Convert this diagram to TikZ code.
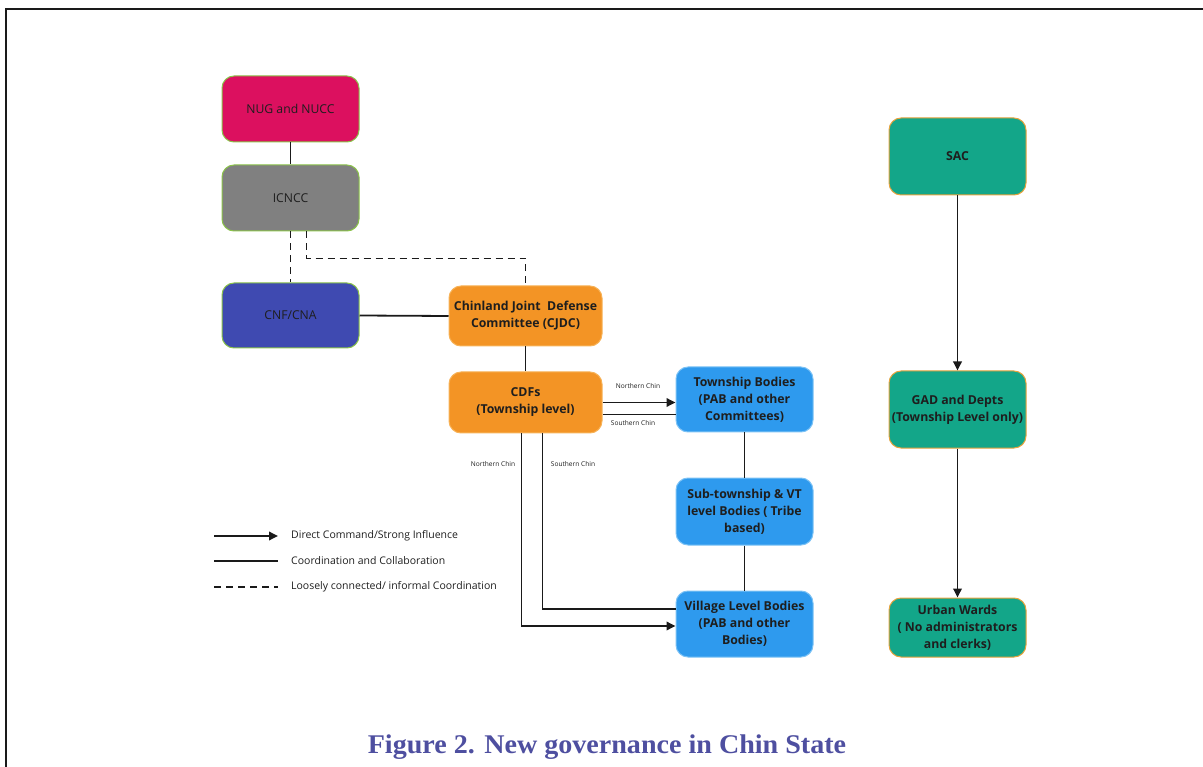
\documentclass[tikz,border=0pt]{standalone}
\usepackage{fontspec}
\setsansfont{Open Sans}
\newfontfamily\capfont{Liberation Serif}
\usetikzlibrary{arrows.meta}
\definecolor{nugc}{HTML}{DC105F}
\definecolor{grayc}{HTML}{808080}
\definecolor{cnfc}{HTML}{3F4AB1}
\definecolor{orgc}{HTML}{F39425}
\definecolor{orgb}{HTML}{F7B257}
\definecolor{bluc}{HTML}{2E9AEE}
\definecolor{blub}{HTML}{7CC2F5}
\definecolor{tealc}{HTML}{13A689}
\definecolor{tealb}{HTML}{E8A33D}
\definecolor{grnb}{HTML}{8BC34A}
\definecolor{txtc}{HTML}{1E1E1E}
\definecolor{capc}{HTML}{4E4FA0}
\definecolor{linec}{HTML}{1A1A1A}
\tikzset{
  box/.style={rectangle, rounded corners=12pt, inner sep=0pt, align=center, line width=1pt, text=txtc, font=\sffamily\fontsize{12.2}{16}\selectfont},
  boldbox/.style={box, font=\sffamily\bfseries\fontsize{12.3}{17}\selectfont},
  conn/.style={draw=linec, line width=1.8pt},
  arr/.style={conn, -{Triangle[length=9pt,width=8.5pt]}},
  dsh/.style={conn, dash pattern=on 7pt off 5pt},
  small/.style={font=\sffamily\fontsize{6.6}{8}\selectfont, text=txtc, inner sep=0pt},
  legtxt/.style={font=\sffamily\fontsize{10.5}{12}\selectfont, text=txtc, anchor=west, inner sep=0pt}
}
\begin{document}
\begin{tikzpicture}[x=1pt,y=-1pt]
\useasboundingbox (0,0) rectangle (1203,767);
% frame
\draw[line width=2.5pt, color=linec] (6,767) -- (6,9) -- (1203,9);
% left column
\node[box, fill=nugc, draw=grnb, minimum width=137pt, minimum height=66pt] (NUG) at (290.5,109) {NUG and NUCC};
\node[box, fill=grayc, draw=grnb, minimum width=137pt, minimum height=66pt] (ICNCC) at (290.5,198) {ICNCC};
\node[box, fill=cnfc, draw=grnb, minimum width=137pt, minimum height=65pt] (CNF) at (290.5,315.5) {CNF/CNA};
% orange
\node[boldbox, fill=orgc, draw=orgb, minimum width=153pt, minimum height=60pt] (CJDC) at (525.5,316) {Chinland Joint\ \ Defense\\Committee (CJDC)};
\node[boldbox, fill=orgc, draw=orgb, minimum width=153pt, minimum height=61pt] (CDF) at (525.5,402.5) {CDFs\\(Township level)};
% blue
\node[boldbox, fill=bluc, draw=blub, minimum width=137pt, minimum height=65pt] (TB) at (744.5,399.5) {Township Bodies\\(PAB and other\\Committees)};
\node[boldbox, fill=bluc, draw=blub, minimum width=137pt, minimum height=67pt] (ST) at (744.5,511.5) {Sub-township \& VT\\level Bodies ( Tribe\\based)};
\node[boldbox, fill=bluc, draw=blub, minimum width=137pt, minimum height=66pt] (VL) at (744.5,624) {Village Level Bodies\\(PAB and other\\Bodies)};
% teal
\node[boldbox, fill=tealc, draw=tealb, minimum width=137pt, minimum height=77pt] (SAC) at (957.5,156.5) {SAC};
\node[boldbox, fill=tealc, draw=tealb, minimum width=137pt, minimum height=77pt] (GAD) at (957.5,409.5) {GAD and Depts\\(Township Level only)};
\node[boldbox, fill=tealc, draw=tealb, minimum width=137pt, minimum height=59pt] (UW) at (957.5,627.5) {Urban Wards\\( No administrators\\and clerks)};
% connectors
\draw[conn] (NUG) -- (ICNCC);
\draw[dsh] (ICNCC.south) -- (CNF.north);
\draw[dsh] ([xshift=16pt]ICNCC.south) -- ++(0,27) -| (CJDC.north);
\draw[conn] (CNF.east) -- (CJDC.west);
\draw[conn] (CJDC) -- (CDF);
\draw[arr] (CDF.east) -- (CDF.east -| TB.west);
\draw[conn] ([yshift=-12pt]CDF.east) -- ([yshift=-12pt]CDF.east -| TB.west);
\draw[arr] ([xshift=-4pt]CDF.south) |- ([yshift=-2pt]VL.west);
\draw[conn] ([xshift=17pt]CDF.south) |- ([yshift=15pt]VL.west);
\draw[conn] (TB) -- (ST);
\draw[conn] (ST) -- (VL);
\draw[arr] (SAC) -- (GAD);
\draw[arr] (GAD) -- (UW);
% small labels
\node[small] (lnc1) at (638,386) {Northern Chin};
\node[small] (lsc1) at (633,423) {Southern Chin};
\node[small] (lnc2) at (493,464) {Northern Chin};
\node[small] (lsc2) at (573,464) {Southern Chin};
% legend
\coordinate (la1) at (214,536); \coordinate (lb1) at (278,536);
\coordinate (la2) at (214,561); \coordinate (lb2) at (278,561);
\coordinate (la3) at (214,587); \coordinate (lb3) at (278,587);
\draw[arr] (la1) -- (lb1);
\draw[conn] (la2) -- (lb2);
\draw[dsh] (la3) -- (lb3);
\node[legtxt] (lt1) at (291,536) {Direct Command/Strong Influence};
\node[legtxt] (lt2) at (291,561) {Coordination and Collaboration};
\node[legtxt] (lt3) at (291,587) {Loosely connected/ informal Coordination};
% caption
\node[font=\capfont\bfseries\fontsize{27}{32}\selectfont, text=capc, inner sep=0pt] (cap) at (607,747) {\scalebox{1.04}[1]{Figure 2. New governance in Chin State}};
\end{tikzpicture}
\end{document}
